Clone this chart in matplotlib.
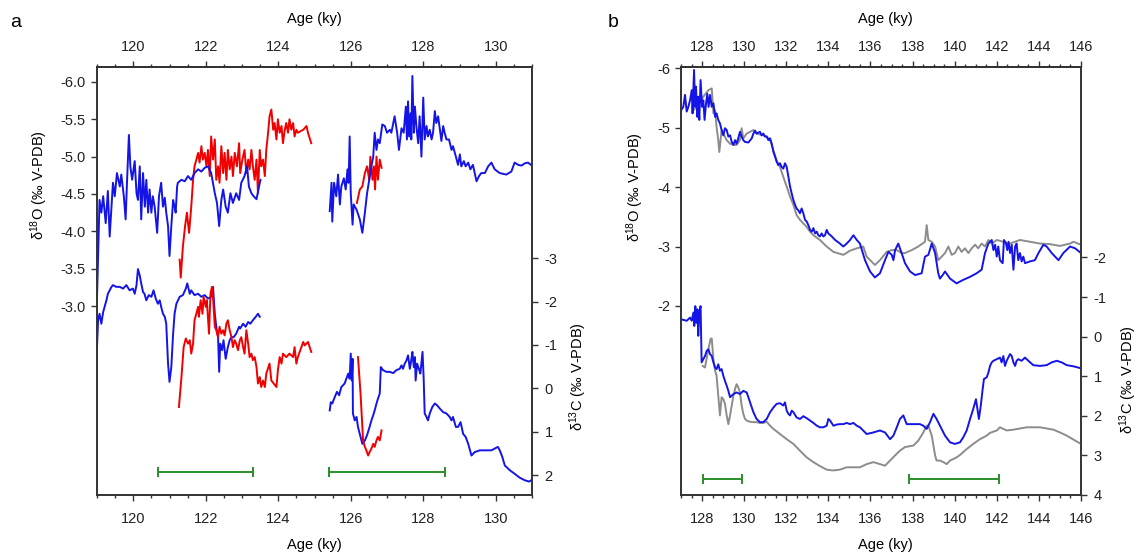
import numpy as np
import matplotlib.pyplot as plt
from matplotlib.ticker import MultipleLocator, FormatStrFormatter

plt.rcParams['font.family'] = ['Liberation Sans', 'DejaVu Sans']
plt.rcParams['mathtext.fontset'] = 'custom'
plt.rcParams['mathtext.rm'] = 'Liberation Sans'
plt.rcParams['mathtext.it'] = 'Liberation Sans:italic'
plt.rcParams['axes.unicode_minus'] = False
plt.rcParams['font.size'] = 10.5

# ---------------- panel a : d18O ----------------
a_o_blue1_age = [119.00, 119.07, 119.12, 119.17, 119.24, 119.30, 119.35, 119.44, 119.49, 119.55,
                 119.63, 119.67, 119.74, 119.79, 119.83, 119.88, 119.92, 119.97, 120.04, 120.09,
                 120.13, 120.18, 120.22, 120.27, 120.32, 120.36, 120.41, 120.45, 120.50, 120.54,
                 120.59, 120.66, 120.71, 120.77, 120.82, 120.87, 120.91, 120.96, 121.00, 121.05,
                 121.10, 121.14, 121.17, 121.21, 121.23, 121.33, 121.42, 121.51, 121.60, 121.69,
                 121.79, 121.88, 121.97, 122.06, 122.15, 122.25, 122.31, 122.37, 122.43, 122.48,
                 122.55, 122.61, 122.68, 122.75, 122.84, 122.92, 122.98, 123.07, 123.14, 123.19,
                 123.26, 123.32, 123.40, 123.47, 123.51]
a_o_blue1 = [-3.10, -4.42, -4.25, -4.47, -4.11, -4.54, -3.93, -4.65, -4.47, -4.78,
             -4.60, -4.76, -4.47, -4.16, -4.69, -5.29, -4.87, -4.69, -4.94, -4.51,
             -4.42, -4.87, -4.16, -4.78, -4.33, -4.69, -4.25, -4.56, -4.25, -4.47,
             -4.33, -3.98, -4.47, -4.65, -4.33, -4.45, -4.25, -4.07, -3.67, -4.07,
             -4.42, -4.33, -4.25, -4.60, -4.65, -4.69, -4.67, -4.74, -4.69, -4.78,
             -4.83, -4.80, -4.85, -4.87, -4.78, -4.51, -4.38, -4.07, -4.42, -4.56,
             -4.33, -4.25, -4.51, -4.38, -4.51, -4.42, -4.65, -4.74, -4.87, -4.60,
             -4.51, -4.47, -4.43, -4.60, -4.69]

a_o_blue2_age = [125.42, 125.47, 125.49, 125.54, 125.60, 125.65, 125.70, 125.74, 125.81, 125.86,
                 125.91, 125.94, 125.97, 126.00, 126.05, 126.08, 126.16, 126.25, 126.32, 126.39,
                 126.45, 126.51, 126.57, 126.62, 126.66, 126.71, 126.75, 126.80, 126.87, 126.94,
                 127.00, 127.08, 127.12, 127.21, 127.28, 127.33, 127.40, 127.46, 127.52, 127.55,
                 127.58, 127.61, 127.65, 127.67, 127.70, 127.74, 127.77, 127.81, 127.86, 127.90,
                 127.95, 128.00, 128.04, 128.09, 128.13, 128.18, 128.23, 128.27, 128.32, 128.36,
                 128.41, 128.46, 128.50, 128.55, 128.59, 128.64, 128.71, 128.78, 128.82, 128.90,
                 128.96, 129.01, 129.05, 129.12, 129.17, 129.24, 129.30, 129.37, 129.47, 129.54,
                 129.60, 129.70, 129.79, 129.88, 129.97, 130.11, 130.29, 130.43, 130.52, 130.62,
                 130.71, 130.80, 130.89, 131.00]
a_o_blue2 = [-4.27, -4.65, -4.13, -4.65, -4.47, -4.76, -4.36, -4.60, -4.71, -4.56,
             -4.83, -4.65, -5.27, -4.51, -4.09, -4.36, -4.29, -4.16, -3.98, -4.25,
             -4.51, -4.69, -4.87, -5.00, -5.32, -5.09, -5.23, -5.18, -5.43, -5.41,
             -5.32, -5.36, -5.32, -5.54, -5.32, -5.09, -5.38, -5.32, -5.67, -5.23,
             -5.74, -5.27, -5.58, -5.23, -6.08, -5.32, -5.67, -5.41, -5.18, -5.54,
             -5.00, -5.79, -5.23, -5.41, -5.27, -5.36, -5.23, -5.32, -5.61, -5.45,
             -5.54, -5.36, -5.21, -5.41, -5.32, -5.23, -5.23, -5.09, -5.14, -5.00,
             -4.89, -5.03, -4.87, -4.94, -4.87, -4.92, -4.83, -4.89, -4.67, -4.74,
             -4.78, -4.78, -4.87, -4.92, -4.83, -4.78, -4.76, -4.80, -4.92, -4.89,
             -4.88, -4.91, -4.92, -4.88]

a_o_red1_age = [121.28, 121.31, 121.37, 121.43, 121.48, 121.54, 121.60, 121.65, 121.69, 121.74,
                121.79, 121.83, 121.88, 121.92, 121.97, 122.02, 122.06, 122.11, 122.15, 122.20,
                122.25, 122.29, 122.34, 122.38, 122.43, 122.48, 122.52, 122.57, 122.61, 122.66,
                122.71, 122.75, 122.80, 122.86, 122.92, 122.95, 123.01, 123.07, 123.12, 123.17,
                123.21, 123.26, 123.30, 123.35, 123.40, 123.44, 123.49, 123.53, 123.58, 123.63,
                123.67, 123.72, 123.76, 123.81, 123.86, 123.90, 123.95, 123.99, 124.04, 124.09,
                124.13, 124.18, 124.22, 124.27, 124.31, 124.36, 124.41, 124.45, 124.50, 124.54,
                124.69, 124.78, 124.82, 124.91]
a_o_red1 = [-3.62, -3.38, -3.80, -4.07, -4.25, -3.98, -4.33, -4.69, -4.87, -4.96,
            -5.05, -4.92, -5.14, -4.96, -5.05, -4.87, -5.09, -4.74, -5.27, -4.96,
            -5.23, -4.69, -4.87, -4.65, -5.14, -4.78, -5.05, -4.69, -5.09, -4.83,
            -5.00, -4.74, -5.05, -4.87, -5.18, -4.78, -4.96, -5.09, -4.78, -4.96,
            -4.83, -5.09, -4.87, -4.69, -4.96, -4.51, -5.09, -4.87, -4.96, -4.74,
            -5.09, -5.32, -5.54, -5.63, -5.36, -5.45, -5.23, -5.50, -5.32, -5.41,
            -5.18, -5.36, -5.45, -5.32, -5.50, -5.36, -5.45, -5.27, -5.36, -5.32,
            -5.36, -5.41, -5.32, -5.18]

a_o_red2_age = [126.17, 126.25, 126.32, 126.39, 126.45, 126.51, 126.54, 126.60, 126.64, 126.67,
                126.71, 126.75, 126.80, 126.85]
a_o_red2 = [-4.38, -4.56, -4.60, -4.78, -4.87, -4.69, -5.00, -4.69, -4.87, -4.56,
            -5.00, -4.69, -4.96, -4.85]

# ---------------- panel a : d13C ----------------
a_c_blue1_age = [119.00, 119.03, 119.07, 119.12, 119.17, 119.21, 119.26, 119.30, 119.35, 119.40,
                 119.44, 119.53, 119.63, 119.72, 119.81, 119.90, 119.99, 120.04, 120.09, 120.13,
                 120.18, 120.22, 120.27, 120.31, 120.36, 120.43, 120.50, 120.56, 120.62, 120.68,
                 120.73, 120.77, 120.82, 120.87, 120.91, 120.96, 121.00, 121.05, 121.10, 121.14,
                 121.19, 121.28, 121.37, 121.45, 121.49, 121.56, 121.60, 121.69, 121.79, 121.88,
                 121.97, 122.06, 122.15, 122.20, 122.25, 122.29, 122.34, 122.37, 122.40, 122.45,
                 122.49, 122.55, 122.61, 122.66, 122.71, 122.77, 122.84, 122.92, 122.95, 123.03,
                 123.10, 123.17, 123.23, 123.30, 123.38, 123.44, 123.49]
a_c_blue1 = [-0.95, -1.57, -1.72, -1.49, -1.76, -1.88, -2.03, -2.18, -2.26, -2.34,
             -2.38, -2.34, -2.34, -2.30, -2.38, -2.26, -2.30, -2.18, -2.38, -2.75,
             -2.60, -2.42, -2.22, -2.18, -2.03, -2.15, -2.11, -2.26, -2.07, -1.95,
             -2.03, -1.88, -1.72, -1.65, -1.49, -0.57, -0.15, -0.49, -1.26, -1.72,
             -1.95, -2.11, -2.15, -2.30, -2.42, -2.18, -2.26, -2.15, -2.18, -2.11,
             -2.15, -2.07, -2.11, -2.34, -1.72, -1.42, -1.18, -0.38, -1.03, -0.88,
             -1.11, -0.68, -0.95, -1.11, -1.18, -1.18, -1.26, -1.42, -1.38, -1.49,
             -1.42, -1.53, -1.49, -1.57, -1.65, -1.72, -1.65]

a_c_blue2_age = [125.42, 125.45, 125.49, 125.56, 125.62, 125.68, 125.74, 125.83, 125.93, 125.97,
                 126.00, 126.03, 126.05, 126.06, 126.11, 126.16, 126.20, 126.27, 126.32, 126.39,
                 126.45, 126.52, 126.57, 126.62, 126.66, 126.71, 126.75, 126.80, 126.83, 126.89,
                 126.98, 127.08, 127.17, 127.26, 127.35, 127.40, 127.44, 127.49, 127.54, 127.58,
                 127.63, 127.67, 127.70, 127.74, 127.77, 127.79, 127.83, 127.89, 127.92, 127.98,
                 128.01, 128.04, 128.09, 128.13, 128.18, 128.25, 128.32, 128.38, 128.46, 128.55,
                 128.64, 128.73, 128.78, 128.82, 128.90, 128.96, 129.03, 129.10, 129.17, 129.24,
                 129.33, 129.42, 129.56, 129.74, 129.88, 129.97, 130.06, 130.11, 130.18, 130.25,
                 130.39, 130.52, 130.66, 130.80, 130.92, 131.00]
a_c_blue2 = [0.51, 0.32, 0.35, 0.20, 0.08, 0.16, -0.03, -0.11, -0.34, -0.22,
             -0.80, -0.18, -0.68, 0.58, 0.74, 0.66, 0.89, 1.12, 1.28, 1.20,
             1.08, 0.89, 0.74, 0.62, 0.51, 0.35, 0.24, 0.12, -0.49, -0.42,
             -0.38, -0.38, -0.35, -0.42, -0.45, -0.53, -0.45, -0.57, -0.65, -0.76,
             -0.45, -0.65, -0.84, -0.49, -0.72, -0.18, -0.57, -0.42, -0.34, -0.84,
             -0.26, 0.58, 0.66, 0.74, 0.58, 0.43, 0.35, 0.39, 0.47, 0.55,
             0.58, 0.66, 0.74, 0.66, 0.89, 0.89, 0.78, 1.05, 1.12, 1.28,
             1.55, 1.47, 1.43, 1.43, 1.43, 1.39, 1.35, 1.43, 1.58, 1.78,
             1.89, 1.97, 2.06, 2.12, 2.15, 2.11]

a_c_red1_age = [121.26, 121.33, 121.39, 121.45, 121.51, 121.56, 121.60, 121.65, 121.69, 121.74,
                121.79, 121.81, 121.86, 121.91, 121.94, 122.00, 122.03, 122.09, 122.13, 122.17,
                122.20, 122.25, 122.29, 122.34, 122.38, 122.43, 122.48, 122.52, 122.57, 122.61,
                122.66, 122.71, 122.75, 122.80, 122.84, 122.89, 122.94, 122.98, 123.03, 123.07,
                123.12, 123.17, 123.21, 123.26, 123.30, 123.35, 123.40, 123.44, 123.49, 123.53,
                123.58, 123.63, 123.67, 123.76, 123.81, 123.95, 123.99, 124.04, 124.09, 124.13,
                124.22, 124.31, 124.41, 124.45, 124.50, 124.54, 124.69, 124.73, 124.82, 124.91]
a_c_red1 = [0.43, -0.26, -0.95, -1.15, -1.03, -1.11, -0.80, -1.03, -1.57, -1.72,
            -1.88, -1.65, -2.03, -1.72, -2.11, -1.88, -2.03, -1.26, -2.18, -2.34,
            -2.11, -1.42, -1.34, -1.18, -1.42, -1.26, -1.34, -1.22, -1.49, -1.57,
            -1.34, -1.18, -0.95, -1.11, -1.03, -0.88, -1.11, -1.18, -0.95, -0.80,
            -1.34, -1.03, -0.72, -0.80, -0.65, -0.72, -0.49, -0.11, -0.26, -0.03,
            -0.18, -0.03, -0.34, -0.57, -0.18, -0.03, -0.42, -0.72, -0.57, -0.80,
            -0.72, -0.80, -0.72, -0.95, -0.57, -0.72, -1.07, -0.99, -1.07, -0.84]

a_c_red2_age = [126.20, 126.27, 126.34, 126.39, 126.43, 126.48, 126.52, 126.57, 126.62, 126.66,
                126.71, 126.75, 126.80, 126.85]
a_c_red2 = [-0.72, 0.12, 1.20, 1.35, 1.43, 1.55, 1.47, 1.39, 1.28, 1.35,
            1.20, 1.12, 1.20, 0.97]

a_bar_age = [122.0, 127.0]
a_bar_err = [1.31, 1.60]
a_bar_level = 1.92

# ---------------- panel b : d18O ----------------
b_o_blue_age = [127.00, 127.11, 127.19, 127.27, 127.35, 127.43, 127.51, 127.55, 127.62, 127.67,
                127.71, 127.78, 127.82, 127.87, 127.93, 128.00, 128.06, 128.12, 128.19, 128.25,
                128.31, 128.38, 128.46, 128.54, 128.62, 128.69, 128.77, 128.85, 128.93, 129.01,
                129.09, 129.17, 129.25, 129.33, 129.41, 129.49, 129.57, 129.64, 129.72, 129.80,
                129.88, 129.96, 130.04, 130.20, 130.36, 130.44, 130.52, 130.59, 130.75, 130.83,
                130.91, 130.99, 131.07, 131.15, 131.23, 131.31, 131.39, 131.47, 131.54, 131.62,
                131.70, 131.78, 131.86, 131.94, 132.02, 132.10, 132.18, 132.26, 132.34, 132.42,
                132.49, 132.57, 132.65, 132.73, 132.81, 132.89, 132.97, 133.05, 133.13, 133.21,
                133.29, 133.37, 133.45, 133.52, 133.60, 133.68, 133.76, 133.84, 133.92, 134.00,
                134.16, 134.32, 134.55, 134.71, 134.87, 135.03, 135.19, 135.35, 135.50,
                135.74, 135.98, 136.21, 136.45, 136.69, 136.85, 137.01, 137.09, 137.17, 137.32,
                137.48, 137.64, 137.88, 138.12, 138.43, 138.59, 138.75, 138.91, 139.07, 139.22,
                139.30, 139.43, 139.54, 139.78, 140.09, 140.41, 140.73, 141.04, 141.28, 141.44,
                141.60, 141.76, 141.84, 141.92, 142.00, 142.07, 142.15, 142.28, 142.34, 142.44,
                142.50, 142.56, 142.63, 142.71, 142.79, 142.87, 142.94, 143.02, 143.10, 143.18,
                143.26, 143.34, 143.58, 143.81, 143.98, 144.21, 144.37, 144.61, 144.93, 145.16,
                145.48, 145.72, 146.00]
b_o_blue = [-5.29, -5.35, -5.55, -5.27, -5.35, -5.46, -5.63, -5.24, -5.97, -5.35,
            -5.69, -5.18, -5.52, -5.13, -5.80, -5.35, -5.46, -5.13, -5.41, -5.57,
            -5.35, -5.55, -5.35, -5.41, -5.18, -5.24, -5.13, -5.07, -4.96, -4.87,
            -4.99, -4.96, -4.85, -4.87, -4.76, -4.71, -4.79, -4.73, -4.82, -4.93,
            -4.85, -4.79, -4.76, -4.75, -4.82, -4.90, -4.95, -4.90, -4.93, -4.87,
            -4.90, -4.85, -4.85, -4.79, -4.82, -4.73, -4.59, -4.51, -4.43, -4.37,
            -4.40, -4.34, -4.31, -4.40, -4.34, -4.17, -4.01, -3.89, -3.78, -3.70,
            -3.64, -3.61, -3.56, -3.64, -3.56, -3.45, -3.42, -3.36, -3.28, -3.25,
            -3.31, -3.22, -3.25, -3.19, -3.17, -3.22, -3.17, -3.19, -3.28, -3.22,
            -3.17, -3.11, -3.05, -3.00, -3.05, -3.11, -3.19, -3.11, -3.05,
            -2.77, -2.58, -2.48, -2.55, -2.77, -2.91, -2.86, -2.77, -2.94, -3.05,
            -2.89, -2.72, -2.58, -2.52, -2.55, -2.83, -2.86, -3.05, -2.89, -2.55,
            -2.46, -2.52, -2.58, -2.46, -2.38, -2.44, -2.49, -2.55, -2.61, -2.89,
            -3.05, -3.11, -2.94, -3.03, -2.83, -3.00, -2.77, -2.72, -3.11, -3.05,
            -2.94, -3.08, -2.89, -3.03, -2.61, -3.00, -3.05, -2.77, -2.89, -2.75,
            -2.83, -2.72, -2.75, -2.77, -2.89, -3.03, -3.00, -2.89, -2.77, -2.89,
            -3.00, -2.97, -2.89]

b_o_gray_age = [127.59, 127.74, 128.06, 128.30, 128.46, 128.54, 128.62, 128.69, 128.77, 128.82,
                128.93, 129.01, 129.17, 129.33, 129.49, 129.64, 129.80, 129.88, 129.96, 130.12,
                130.28, 130.44, 130.59, 130.91, 131.07, 131.23, 131.39, 131.54, 131.70, 131.86,
                132.02, 132.18, 132.34, 132.49, 132.65, 132.81, 132.97, 133.13, 133.29, 133.60,
                133.92, 134.24, 134.71, 135.03, 135.35, 135.66,
                135.82, 136.21, 136.45, 136.77, 137.01, 137.25, 137.48, 137.64, 137.96, 138.27,
                138.59, 138.67, 138.75, 138.91, 139.07, 139.22, 139.38, 139.54, 139.70, 139.86,
                140.01, 140.17, 140.33, 140.49, 140.65, 140.81, 140.97, 141.12, 141.28, 141.44,
                141.60, 141.76, 142.00, 142.31, 142.63, 143.10, 143.58, 144.05, 144.53, 145.00,
                145.48, 145.64, 146.00]
b_o_gray = [-5.29, -5.35, -5.52, -5.63, -5.66, -5.24, -5.29, -5.01, -4.79, -4.59,
            -4.96, -4.90, -4.79, -4.73, -4.71, -4.71, -4.79, -4.99, -4.82, -4.90,
            -4.93, -4.96, -4.90, -4.87, -4.85, -4.79, -4.62, -4.45, -4.34, -4.17,
            -4.01, -3.84, -3.70, -3.53, -3.45, -3.39, -3.33, -3.25, -3.19, -3.11,
            -3.00, -2.91, -2.86, -2.93, -2.97, -3.00,
            -2.83, -2.69, -2.77, -2.91, -2.94, -2.94, -2.89, -2.89, -2.94, -3.00,
            -3.08, -3.36, -3.11, -3.08, -3.00, -2.77, -2.83, -2.89, -3.00, -2.86,
            -2.89, -3.00, -2.91, -2.97, -2.89, -2.97, -3.03, -2.97, -3.05, -3.00,
            -3.11, -3.05, -3.11, -3.08, -3.05, -3.11, -3.08, -3.05, -3.04, -3.01,
            -3.05, -3.08, -3.03]

# ---------------- panel b : d13C ----------------
b_c_blue_age = [127.00, 127.27, 127.43, 127.51, 127.59, 127.63, 127.68, 127.73, 127.78, 127.82,
                127.87, 127.93, 127.98, 128.06, 128.14, 128.22, 128.30, 128.38, 128.46, 128.54,
                128.62, 128.69, 128.77, 128.85, 128.93, 129.01, 129.09, 129.17, 129.25, 129.33,
                129.49, 129.64, 129.80, 129.96, 130.12, 130.20, 130.28, 130.44, 130.59, 130.75,
                130.91, 131.07, 131.23, 131.39, 131.54, 131.70, 131.86, 131.94, 132.02, 132.10,
                132.18, 132.26, 132.34, 132.49, 132.65, 132.81, 132.97, 133.13, 133.29, 133.45,
                133.60, 133.76, 133.92, 134.00, 134.08, 134.24, 134.40, 134.55, 134.71, 134.87,
                135.03, 135.19, 135.35, 135.50,
                135.82, 136.14, 136.45, 136.69, 136.93, 137.09, 137.25, 137.40, 137.56, 137.72,
                138.04, 138.35, 138.51, 138.67, 138.83, 138.99, 139.14, 139.30, 139.54, 139.78,
                140.01, 140.25, 140.41, 140.57, 140.73, 140.88, 141.01, 141.07, 141.15, 141.24,
                141.33, 141.39, 141.52, 141.60, 141.68, 141.76, 141.84, 142.00, 142.15, 142.23,
                142.31, 142.39, 142.47, 142.63, 142.71, 142.79, 142.87, 142.94, 143.02, 143.18,
                143.34, 143.50, 143.73, 144.05, 144.37, 144.61, 144.85, 145.08, 145.32, 145.64,
                146.00]
b_c_blue = [-0.44, -0.40, -0.48, -0.40, -0.61, -0.27, -0.77, -0.35, -0.69, -0.02,
            -0.61, -0.77, 0.65, 0.57, 0.49, 0.36, 0.32, 0.44, 0.49, 0.65,
            0.78, 0.82, 0.70, 0.86, 0.82, 0.99, 1.12, 1.24, 1.37, 1.53,
            1.45, 1.41, 1.45, 1.37, 1.41, 1.53, 1.66, 1.91, 2.08, 2.16,
            2.16, 2.08, 1.91, 1.79, 1.70, 1.68, 1.74, 1.66, 1.87, 1.95,
            1.99, 1.87, 1.91, 2.04, 2.08, 2.01, 2.06, 2.12, 2.18, 2.25,
            2.29, 2.29, 2.25, 2.08, 2.12, 2.25, 2.22, 2.21, 2.21, 2.18,
            2.21, 2.18, 2.25, 2.29,
            2.46, 2.42, 2.37, 2.42, 2.59, 2.50, 2.29, 2.08, 1.99, 2.21,
            2.21, 2.21, 2.25, 2.33, 2.16, 1.95, 2.08, 2.25, 2.50, 2.67,
            2.71, 2.67, 2.54, 2.37, 2.08, 1.83, 1.58, 1.79, 2.08, 1.74,
            1.32, 1.07, 1.03, 0.91, 0.74, 0.65, 0.61, 0.57, 0.53, 0.65,
            0.49, 0.74, 0.61, 0.44, 0.49, 0.65, 0.74, 0.61, 0.57, 0.61,
            0.53, 0.61, 0.72, 0.74, 0.72, 0.65, 0.61, 0.65, 0.72, 0.75,
            0.80]

b_c_gray_age = [128.03, 128.14, 128.30, 128.41, 128.46, 128.54, 128.62, 128.69, 128.77, 128.85,
                128.93, 129.01, 129.09, 129.17, 129.25, 129.33, 129.41, 129.49, 129.57, 129.64,
                129.72, 129.80, 129.88, 129.96, 130.04, 130.12, 130.28, 130.44, 130.59, 130.75,
                130.91, 131.07, 131.23, 131.39, 131.70, 132.02, 132.34, 132.65, 132.97, 133.29,
                133.60, 133.92, 134.24, 134.55, 134.87, 135.19, 135.50,
                135.82, 136.14, 136.45, 136.69, 136.93, 137.17, 137.40, 137.64, 138.04, 138.27,
                138.51, 138.67, 138.75, 138.91, 139.07, 139.14, 139.30, 139.46, 139.62, 139.78,
                139.94, 140.09, 140.25, 140.57, 140.88, 141.20, 141.52, 141.68, 141.84, 142.00,
                142.15, 142.31, 142.47, 142.79, 143.10, 143.42, 143.73, 144.05, 144.37, 144.69,
                145.00, 145.32, 145.64, 146.00]
b_c_gray = [0.74, 0.78, 0.32, 0.05, 0.05, 0.57, 0.86, 0.99, 1.49, 1.99,
            1.53, 1.58, 1.70, 1.99, 2.21, 1.99, 1.74, 1.49, 1.32, 1.20,
            1.28, 1.41, 1.74, 1.95, 2.08, 2.12, 2.15, 2.16, 2.16, 2.18,
            2.18, 2.15, 2.25, 2.33, 2.46, 2.59, 2.71, 2.88, 3.05, 3.17,
            3.27, 3.36, 3.38, 3.36, 3.30, 3.30, 3.30,
            3.22, 3.17, 3.22, 3.26, 3.13, 3.00, 2.88, 2.79, 2.75, 2.63,
            2.42, 2.25, 2.25, 2.50, 3.00, 3.13, 3.13, 3.17, 3.22, 3.13,
            3.09, 3.05, 2.99, 2.84, 2.71, 2.59, 2.50, 2.43, 2.40, 2.37,
            2.29, 2.33, 2.37, 2.35, 2.32, 2.29, 2.29, 2.29, 2.32, 2.35,
            2.42, 2.50, 2.60, 2.71]

b_bar_age = [128.97, 139.98]
b_bar_err = [0.91, 2.13]
b_bar_level = 3.59

BLUE = '#1414e6'
RED = '#f00000'
GRAY = '#8c8c8c'
GREEN = '#2a8f2a'
DARK = '#333333'
LW = 1.4


def setup_panel(ax, ax2, xlim, xticks, ylim_o, yticks_o, fmt_o, ylim_c, yticks_c, xcen, labels):
    ax.set_xlim(*xlim)
    ax.set_xticks(xticks)
    ax.xaxis.set_minor_locator(MultipleLocator(0.5))
    ax.set_ylim(*ylim_o)
    ax.set_yticks(yticks_o)
    ax.yaxis.set_major_formatter(FormatStrFormatter(fmt_o))
    ax2.set_ylim(*ylim_c)
    ax2.set_yticks(yticks_c)
    ax2.yaxis.set_major_formatter(FormatStrFormatter('%d'))

    ax.tick_params(axis='x', which='major', length=4, width=1, pad=8, color=DARK, labelcolor='#222222')
    ax.tick_params(axis='x', which='minor', length=2.5, width=1, color=DARK)
    ax.tick_params(axis='y', left=True, right=False, length=4, width=1, pad=4, color=DARK, labelcolor='#222222')
    ax2.tick_params(axis='y', length=4, width=1, pad=5, color=DARK, labelcolor='#222222')

    sec = ax.secondary_xaxis('top')
    sec.set_xticks(xticks)
    sec.xaxis.set_minor_locator(MultipleLocator(0.5))
    sec.tick_params(axis='x', which='major', length=4, width=1, pad=5.5, color=DARK, labelcolor='#222222')
    sec.tick_params(axis='x', which='minor', length=2.5, width=1, color=DARK)
    sec.spines['top'].set_linewidth(1.2)
    sec.spines['top'].set_color(DARK)

    for a in (ax, ax2):
        for s in a.spines.values():
            s.set_linewidth(1.2)
            s.set_color(DARK)

    ax.text(xcen, 1.103, 'Age (ky)', transform=ax.transAxes, ha='center', va='baseline', fontsize=10.5)
    ax.text(xcen, -0.126, 'Age (ky)', transform=ax.transAxes, ha='center', va='baseline', fontsize=10.5)
    lx, ly, rx, ry = labels
    ax.text(lx, ly, r'δ$^{18}$O (‰ V-PDB)', transform=ax.transAxes, rotation=90,
            ha='center', va='center', fontsize=10.5)
    ax.text(rx, ry, r'δ$^{13}$C (‰ V-PDB)', transform=ax.transAxes, rotation=90,
            ha='center', va='center', fontsize=10.5)


fig = plt.figure(figsize=(11.4, 5.57), dpi=100)
ax_a = fig.add_axes([97 / 1140, 62 / 557, 435 / 1140, 428 / 557])
ax_a2 = ax_a.twinx()
ax_b = fig.add_axes([681 / 1140, 62 / 557, 400 / 1140, 428 / 557])
ax_b2 = ax_b.twinx()

# panel a
ax_a.plot(a_o_red1_age, a_o_red1, color=RED, lw=LW)
ax_a.plot(a_o_red2_age, a_o_red2, color=RED, lw=LW)
ax_a.plot(a_o_blue1_age, a_o_blue1, color=BLUE, lw=LW)
ax_a.plot(a_o_blue2_age, a_o_blue2, color=BLUE, lw=LW)
ax_a2.plot(a_c_blue1_age, a_c_blue1, color=BLUE, lw=LW)
ax_a2.plot(a_c_blue2_age, a_c_blue2, color=BLUE, lw=LW)
ax_a2.plot(a_c_red1_age, a_c_red1, color=RED, lw=LW)
ax_a2.plot(a_c_red2_age, a_c_red2, color=RED, lw=LW)
ax_a2.errorbar(a_bar_age, [a_bar_level] * len(a_bar_age), xerr=a_bar_err, fmt='none',
               ecolor=GREEN, elinewidth=1.4, capsize=3.5, capthick=1.4)
setup_panel(ax_a, ax_a2, (119, 131), np.arange(120, 131, 2),
            (-0.47, -6.2), np.arange(-6.0, -2.9, 0.5), '%.1f',
            (2.46, -7.41), np.arange(-3, 3, 1), 0.5,
            (-0.133, 0.724, 1.106, 0.276))

# panel b
ax_b.plot(b_o_gray_age, b_o_gray, color=GRAY, lw=LW)
ax_b.plot(b_o_blue_age, b_o_blue, color=BLUE, lw=LW)
ax_b2.plot(b_c_gray_age, b_c_gray, color=GRAY, lw=LW)
ax_b2.plot(b_c_blue_age, b_c_blue, color=BLUE, lw=LW)
ax_b2.errorbar(b_bar_age, [b_bar_level] * len(b_bar_age), xerr=b_bar_err, fmt='none',
               ecolor=GREEN, elinewidth=1.4, capsize=3.5, capthick=1.4)
setup_panel(ax_b, ax_b2, (127, 146), np.arange(128, 147, 2),
            (1.18, -6.02), np.arange(-6, -1, 1), '%d',
            (4.0, -6.81), np.arange(-2, 5, 1), 0.51,
            (-0.115, 0.72, 1.118, 0.269))

fig.text(10 / 1140, 1 - 27 / 557, 'a', fontsize=14, ha='left', va='baseline')
fig.text(608 / 1140, 1 - 27 / 557, 'b', fontsize=14, ha='left', va='baseline')

fig.savefig('out.png', dpi=100)
